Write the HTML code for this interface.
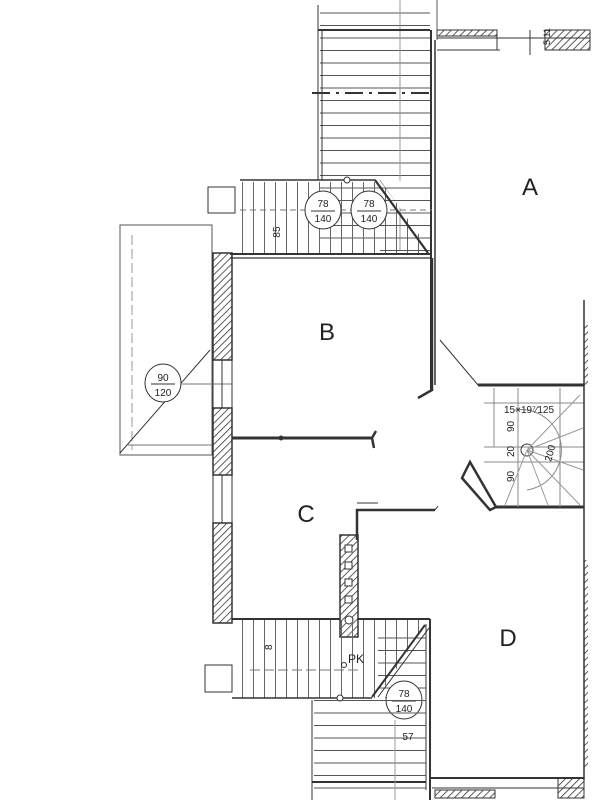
<!DOCTYPE html>
<html><head><meta charset="utf-8"><style>
html,body{margin:0;padding:0;background:#fff;}
svg{display:block;}
text{font-family:"Liberation Sans",sans-serif;fill:#222;}
</style></head><body>
<svg width="600" height="800" viewBox="0 0 600 800" xmlns="http://www.w3.org/2000/svg">
<defs>
<pattern id="hl" width="10" height="12.5" patternUnits="userSpaceOnUse"><line x1="0" y1="0.5" x2="10" y2="0.5" stroke="#555" stroke-width="1"/></pattern>
<pattern id="vl" width="11" height="10" patternUnits="userSpaceOnUse"><line x1="0.5" y1="0" x2="0.5" y2="10" stroke="#666" stroke-width="1"/></pattern>
<pattern id="hat" width="5" height="5" patternUnits="userSpaceOnUse" patternTransform="rotate(45)"><line x1="0" y1="0" x2="0" y2="5" stroke="#333" stroke-width="1.6"/></pattern>
</defs>
<g fill="none" stroke="#333" stroke-width="1">
<!-- top stair -->
<rect x="320" y="5" width="110" height="245" fill="url(#hl)" stroke="none"/>
<line x1="318" y1="5" x2="318" y2="180"/><line x1="322" y1="30" x2="322" y2="180"/>
<line x1="400" y1="0" x2="400" y2="250" stroke="#999"/>
<line x1="318" y1="30" x2="430" y2="30" stroke-width="2"/>
<line x1="312" y1="93" x2="430" y2="93" stroke-width="2" stroke-dasharray="18,6,3,6"/>
<line x1="431" y1="30" x2="431" y2="390" stroke-width="2"/><line x1="435" y1="40" x2="435" y2="385" stroke-width="1.5"/>
<line x1="437" y1="0" x2="437" y2="40" stroke-width="0.8"/>
<!-- top right strip -->
<rect x="437" y="30" width="60" height="6" fill="url(#hat)"/>
<rect x="545" y="30" width="45" height="20" fill="url(#hat)"/>
<line x1="437" y1="38" x2="590" y2="38"/><line x1="437" y1="50" x2="500" y2="50"/>
<line x1="497" y1="30" x2="497" y2="50"/><line x1="530" y1="30" x2="530" y2="55"/>
<text x="545" y="50" font-size="9" stroke="none" transform="rotate(-90 545 45)">5 11</text>
<!-- upper landing -->
<rect x="233" y="182" width="195" height="72" fill="url(#vl)" stroke="none"/>
<line x1="240" y1="180" x2="375" y2="180" stroke-width="1.5"/>
<line x1="375" y1="180" x2="428" y2="253" stroke-width="2"/><line x1="380" y1="180" x2="432" y2="250"/>
<polygon points="380,180 430,250 430,182" fill="#fff" stroke="none"/>
<rect x="380" y="182" width="50" height="70" fill="url(#hl)" stroke="none"/>
<line x1="375" y1="180" x2="428" y2="253" stroke-width="2"/>
<line x1="230" y1="254" x2="432" y2="254" stroke-width="2"/><line x1="230" y1="258" x2="432" y2="258" stroke-width="1.2"/>
<line x1="240" y1="210" x2="432" y2="210" stroke-dasharray="6,4" stroke="#777"/>
<circle cx="347" cy="180" r="3" fill="#fff"/>
<ellipse cx="323" cy="210" rx="18" ry="19" fill="#fff"/><ellipse cx="369" cy="210" rx="18" ry="19" fill="#fff"/>
<line x1="311" y1="211" x2="335" y2="211"/><line x1="357" y1="211" x2="381" y2="211"/>
<rect x="208" y="187" width="27" height="26" fill="#fff"/>
<!-- left balcony -->
<rect x="120" y="225" width="92" height="230" stroke="#555"/>
<line x1="132" y1="235" x2="132" y2="450" stroke="#999" stroke-dasharray="10,4"/>
<line x1="120" y1="453" x2="210" y2="350"/>
<line x1="128" y1="445" x2="212" y2="445" stroke="#777"/>
<ellipse cx="163" cy="383" rx="18" ry="19" fill="#fff"/><line x1="151" y1="384" x2="175" y2="384"/>
<line x1="181" y1="384" x2="232" y2="384" stroke="#777"/>
<!-- left walls -->
<rect x="213" y="253" width="19" height="107" fill="url(#hat)" stroke-width="1.5"/>
<rect x="213" y="408" width="19" height="67" fill="url(#hat)" stroke-width="1.5"/>
<rect x="213" y="523" width="19" height="100" fill="url(#hat)" stroke-width="1.5"/>
<rect x="213" y="360" width="19" height="48"/><line x1="222" y1="360" x2="222" y2="408"/>
<rect x="213" y="475" width="19" height="48"/><line x1="222" y1="475" x2="222" y2="523"/>
<!-- B/C partition -->
<line x1="232" y1="438" x2="372" y2="438" stroke-width="3"/>
<path d="M372 438 l4 -7 M372 438 l2 10" stroke-width="2.5"/>
<circle cx="281" cy="438" r="2" fill="#333"/>
<!-- B right wall end -->
<path d="M432 258 V390 L418 398" stroke-width="2.5"/>
<line x1="440" y1="340" x2="478" y2="385"/>
<!-- stair box -->
<line x1="478" y1="385" x2="584" y2="385" stroke-width="3"/>
<line x1="496" y1="507" x2="584" y2="507" stroke-width="3"/>
<path d="M470 462 L462 478 L490 510 L496 507 Z" stroke-width="2.5"/>
<line x1="484" y1="403" x2="584" y2="403" stroke="#888"/>
<line x1="484" y1="447" x2="584" y2="447" stroke="#888"/>
<line x1="484" y1="462" x2="584" y2="462" stroke="#888"/>
<line x1="518" y1="388" x2="518" y2="507" stroke="#888"/><line x1="560" y1="388" x2="560" y2="507" stroke="#888"/>
<line x1="494" y1="388" x2="494" y2="447" stroke="#888"/>
<circle cx="527" cy="450" r="6"/>
<path d="M515 410 A40 40 0 0 1 527 490" stroke="#888"/>
<path d="M527 450 L580 395 M527 450 L583 428 M527 450 L583 470 M527 450 L580 505 M527 450 L548 505 M527 450 L505 505" stroke="#999"/>
<text x="504" y="413" font-size="10" stroke="none">15×19⁷⁄125</text>
<text x="514" y="432" font-size="10" stroke="none" transform="rotate(-90 514 432)">90</text>
<text x="514" y="457" font-size="10" stroke="none" transform="rotate(-90 514 457)">20</text>
<text x="514" y="482" font-size="10" stroke="none" transform="rotate(-90 514 482)">90</text>
<text x="551" y="462" font-size="10" stroke="none" transform="rotate(-75 551 462)">200</text>
<!-- right wall -->
<line x1="584" y1="300" x2="584" y2="780" stroke-width="1.5"/>
<rect x="584" y="325" width="4" height="60" fill="url(#hat)" stroke="none"/>
<rect x="584" y="560" width="4" height="210" fill="url(#hat)" stroke="none"/>
<!-- C partition -->
<path d="M357 540 V510 H435" stroke-width="2.5"/><line x1="357" y1="503" x2="378" y2="503"/><path d="M435 510 l3 -4"/>
<!-- chimney -->
<rect x="340" y="535" width="18" height="102" fill="url(#hat)" stroke-width="1.5"/>
<rect x="345" y="545" width="7" height="7" fill="#fff"/><rect x="345" y="562" width="7" height="7" fill="#fff"/><rect x="345" y="579" width="7" height="7" fill="#fff"/><rect x="345" y="596" width="7" height="7" fill="#fff"/><circle cx="349" cy="620" r="4" fill="#fff"/>
<!-- bottom landing -->
<rect x="232" y="620" width="194" height="78" fill="url(#vl)" stroke="none"/>
<line x1="232" y1="619" x2="340" y2="619" stroke-width="2"/><line x1="358" y1="619" x2="430" y2="619" stroke-width="2"/>
<line x1="430" y1="619" x2="430" y2="800" stroke-width="2"/><line x1="426" y1="624" x2="426" y2="790"/>
<polygon points="378,697 425,625 425,697" fill="#fff" stroke="none"/>
<rect x="378" y="632" width="48" height="66" fill="url(#hl)" stroke="none"/>
<line x1="372" y1="697" x2="425" y2="625" stroke-width="2"/><line x1="378" y1="697" x2="429" y2="628"/>
<line x1="232" y1="698" x2="372" y2="698" stroke-width="1.5"/>
<line x1="250" y1="670" x2="360" y2="670" stroke="#777" stroke-dasharray="10,4"/>
<circle cx="340" cy="698" r="3" fill="#fff"/><circle cx="344" cy="665" r="2.5" fill="#fff"/>
<text x="348" y="663" font-size="12" stroke="none">PK</text>
<text x="272" y="650" font-size="10" stroke="none" transform="rotate(-90 272 650)">8</text>
<rect x="205" y="665" width="27" height="27" fill="#fff"/>
<ellipse cx="404" cy="700" rx="18" ry="19" fill="#fff"/><line x1="392" y1="701" x2="416" y2="701"/>
<!-- bottom stair -->
<rect x="314" y="700" width="112" height="100" fill="url(#hl)" stroke="none"/>
<line x1="312" y1="700" x2="312" y2="800"/>
<line x1="312" y1="782" x2="426" y2="782" stroke-width="2"/>
<line x1="395" y1="720" x2="395" y2="800" stroke="#999"/>
<!-- bottom wall -->
<line x1="430" y1="778" x2="584" y2="778" stroke-width="2"/>
<rect x="435" y="790" width="60" height="8" fill="url(#hat)"/><rect x="558" y="778" width="26" height="20" fill="url(#hat)"/>
<line x1="432" y1="788" x2="584" y2="788"/>
</g>
<g stroke="none" font-size="10" text-anchor="middle">
<text x="323" y="207">78</text><text x="323" y="222">140</text>
<text x="369" y="207">78</text><text x="369" y="222">140</text>
<text x="163" y="381">90</text><text x="163" y="396">120</text>
<text x="404" y="697">78</text><text x="404" y="712">140</text>
<text x="408" y="740">57</text>
<text x="280" y="232" transform="rotate(-90 280 232)">85</text>
</g>
<g font-size="24" text-anchor="middle" stroke="none">
<text x="530" y="195">A</text><text x="327" y="340">B</text><text x="306" y="522">C</text><text x="508" y="646">D</text>
</g>
</svg>
</body></html>
